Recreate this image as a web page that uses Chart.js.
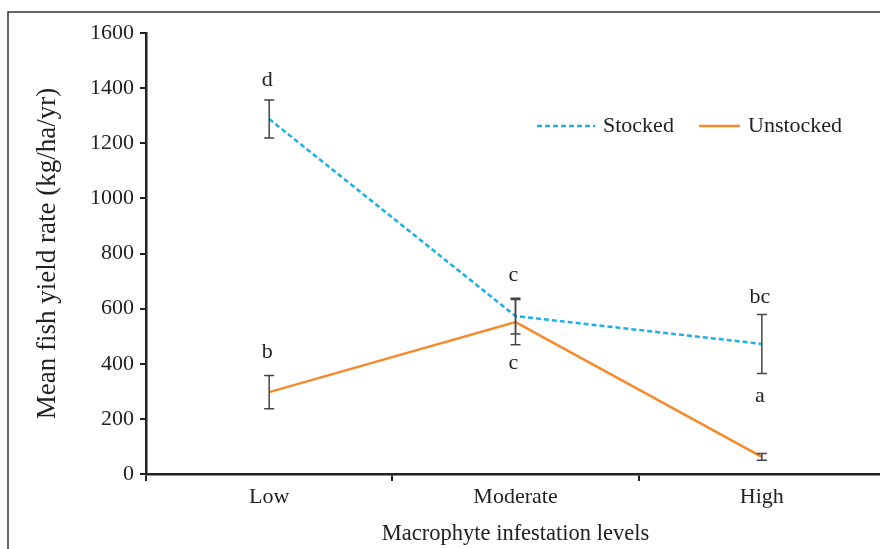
<!DOCTYPE html>
<html>
<head>
<meta charset="utf-8">
<script src="https://cdn.jsdelivr.net/npm/chart.js@4.4.1/dist/chart.umd.min.js"></script>
<style>
  html, body { margin: 0; padding: 0; background: #fff; overflow: hidden; }
  #wrap { position: relative; width: 890px; height: 549px; }
</style>
</head>
<body>
<div id="wrap"><canvas id="yieldChart" width="890" height="549"></canvas></div>
<script>
'use strict';

const levels = ['Low', 'Moderate', 'High'];
const stocked = [1288, 573, 472];
const stockedErr = [69, 65, 107];
const unstocked = [297, 551, 62];
const unstockedErr = [60, 82, 12];
// significance letters and the value at which each sits
const stockedLetters = ['d', 'c', 'bc'];
const stockedLetterY = [1430, 722, 642];
const unstockedLetters = ['b', 'c', 'a'];
const unstockedLetterY = [443, 403, 283];
const yTicks = [0, 200, 400, 600, 800, 1000, 1200, 1400, 1600];

const serif = '"Liberation Serif", "DejaVu Serif", serif';
const ink = '#222';

const extras = {
  id: 'extras',
  afterDatasetsDraw(chart) {
    const { ctx, scales: { x, y } } = chart;
    ctx.save();
    // error bars
    const bars = (vals, errs) => {
      vals.forEach((v, i) => {
        const px = x.getPixelForValue(i);
        const top = y.getPixelForValue(v + errs[i]);
        const bot = y.getPixelForValue(v - errs[i]);
        ctx.strokeStyle = '#444';
        ctx.lineWidth = 1.5;
        ctx.beginPath();
        ctx.moveTo(px, top); ctx.lineTo(px, bot);
        ctx.moveTo(px - 5, top); ctx.lineTo(px + 5, top);
        ctx.moveTo(px - 5, bot); ctx.lineTo(px + 5, bot);
        ctx.stroke();
      });
    };
    bars(stocked, stockedErr);
    bars(unstocked, unstockedErr);

    // letters
    ctx.fillStyle = ink;
    ctx.font = '22px ' + serif;
    ctx.textAlign = 'center';
    ctx.textBaseline = 'middle';
    stockedLetters.forEach((t, i) => {
      ctx.fillText(t, x.getPixelForValue(i) - 2, y.getPixelForValue(stockedLetterY[i]));
    });
    unstockedLetters.forEach((t, i) => {
      ctx.fillText(t, x.getPixelForValue(i) - 2, y.getPixelForValue(unstockedLetterY[i]));
    });

    // legend
    ctx.lineWidth = 2.5;
    ctx.strokeStyle = '#1ab0e8';
    ctx.setLineDash([5, 3]);
    ctx.beginPath(); ctx.moveTo(537, 126); ctx.lineTo(595, 126); ctx.stroke();
    ctx.setLineDash([]);
    ctx.strokeStyle = '#f58a2a';
    ctx.beginPath(); ctx.moveTo(699, 126); ctx.lineTo(740, 126); ctx.stroke();
    ctx.textAlign = 'left';
    ctx.fillText('Stocked', 603, 126);
    ctx.fillText('Unstocked', 748, 126);

    // outer frame
    ctx.strokeStyle = '#333';
    ctx.lineWidth = 1.5;
    ctx.beginPath();
    ctx.moveTo(8, 549); ctx.lineTo(8, 12); ctx.lineTo(890, 12);
    ctx.stroke();
    ctx.restore();
  }
};

new Chart(document.getElementById('yieldChart'), {
  type: 'line',
  data: {
    labels: levels,
    datasets: [{
      label: 'Stocked',
      data: stocked,
      borderColor: '#1ab0e8',
      borderWidth: 2.5,
      borderDash: [5, 3],
      pointRadius: 0,
      tension: 0,
      fill: false
    }, {
      label: 'Unstocked',
      data: unstocked,
      borderColor: '#f58a2a',
      borderWidth: 2.5,
      pointRadius: 0,
      tension: 0,
      fill: false
    }]
  },
  options: {
    responsive: false,
    animation: false,
    layout: { padding: { top: 33, right: 5, left: 0, bottom: 0 } },
    plugins: {
      legend: { display: false },
      tooltip: { enabled: false }
    },
    scales: {
      x: {
        offset: true,
        afterFit: (s) => { s.height = 75; },
        grid: {
          offset: true,
          drawOnChartArea: false,
          drawTicks: true,
          tickLength: 7,
          color: ink,
          lineWidth: 2
        },
        border: { display: true, color: ink, width: 2.5 },
        ticks: {
          color: ink,
          padding: 3,
          font: { family: serif, size: 22 }
        },
        title: {
          display: true,
          text: 'Macrophyte infestation levels',
          color: ink,
          padding: { top: 0, bottom: 1 },
          font: { family: serif, size: 22.5 }
        }
      },
      y: {
        min: 0,
        max: 1600,
        afterFit: (s) => { s.width = 146; },
        afterBuildTicks: (s) => { s.ticks = yTicks.map(v => ({ value: v })); },
        grid: {
          drawOnChartArea: false,
          drawTicks: true,
          tickLength: 6,
          color: ink,
          lineWidth: 2
        },
        border: { display: true, color: ink, width: 2.5 },
        ticks: {
          color: ink,
          padding: 6,
          callback: (v) => String(v),
          font: { family: serif, size: 22 }
        },
        title: {
          display: true,
          text: 'Mean fish yield rate (kg/ha/yr)',
          color: ink,
          padding: { top: 32, bottom: 0 },
          font: { family: serif, size: 27 }
        }
      }
    }
  },
  plugins: [extras]
});
</script>
</body>
</html>
